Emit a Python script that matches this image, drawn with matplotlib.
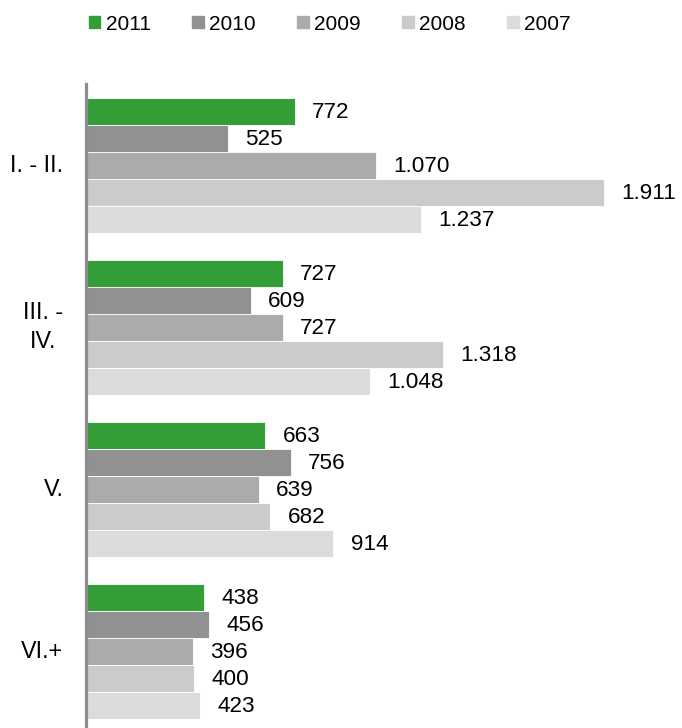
import matplotlib.pyplot as plt
from matplotlib.patches import Patch

plt.rcParams['font.family'] = ['Liberation Sans', 'DejaVu Sans']

categories = ["I. - II.", "III. -\nIV.", "V.", "VI.+"]
years = ["2011", "2010", "2009", "2008", "2007"]
colors = ["#339e38", "#919191", "#ababab", "#cbcbcb", "#dcdcdc"]

v2011 = [772, 727, 663, 438]
v2010 = [525, 609, 756, 456]
v2009 = [1070, 727, 639, 396]
v2008 = [1911, 1318, 682, 400]
v2007 = [1237, 1048, 914, 423]
series = [v2011, v2010, v2009, v2008, v2007]


def fmt(v):
    return f"{v:,}".replace(",", ".")


fig = plt.figure(figsize=(6.82, 7.28), dpi=100)
ax = fig.add_axes([85.5 / 682, 0, 1 - 85.5 / 682, 644 / 728])

for j, (vals, col) in enumerate(zip(series, colors)):
    ys = [6 * i + 1 + j for i in range(len(categories))]
    ax.barh(ys, vals, height=1.0, color=col, edgecolor="white", linewidth=0.6, zorder=1)
    for y, v in zip(ys, vals):
        ax.annotate(fmt(v), (v, y), xytext=(12.5, -0.8), textcoords="offset points",
                    ha="left", va="center", fontsize=16.2, color="black")

for i, cat in enumerate(categories):
    ax.annotate(cat, (0, 6 * i + 3), xytext=(-16, 0), textcoords="offset points",
                ha="right", va="center", multialignment="center", fontsize=16.8,
                linespacing=1.35)

ax.set_xlim(0, 2199)
ax.set_ylim(23.85, 0)
for s in ["top", "right", "bottom"]:
    ax.spines[s].set_visible(False)
ax.spines["left"].set_color("#8c8c8c")
ax.spines["left"].set_linewidth(2.3)
ax.spines["left"].set_zorder(3)
ax.set_xticks([])
ax.set_yticks([])

handles = [Patch(color=c, label=y) for c, y in zip(colors, years)]
fig.legend(handles=handles, loc="center left", bbox_to_anchor=(89 / 682, 1 - 24 / 728),
           ncol=5, frameon=False, fontsize=15, handlelength=0.55, handleheight=0.55,
           handletextpad=0.25, columnspacing=2.0, borderpad=0, borderaxespad=0)

plt.savefig("out.png")
